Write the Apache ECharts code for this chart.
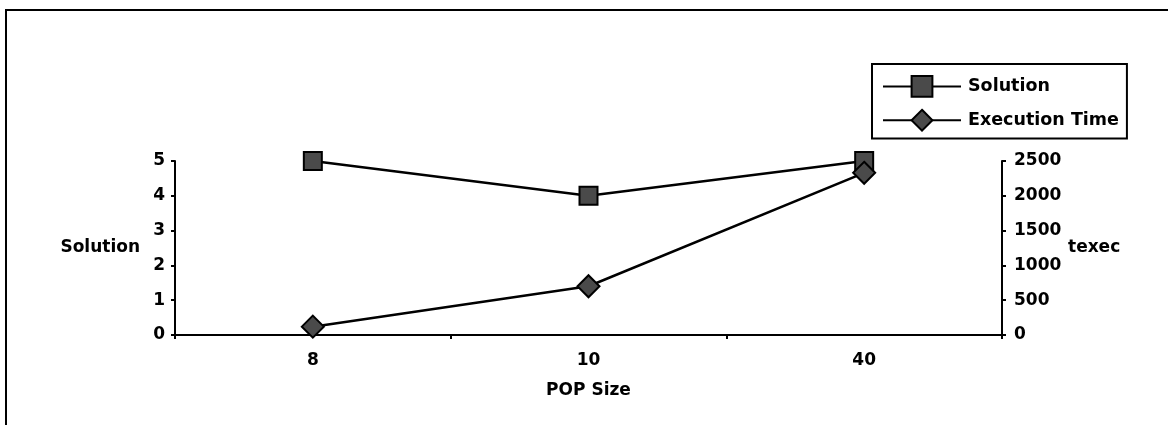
<!DOCTYPE html>
<html>
<head>
<meta charset="utf-8">
<script src="https://cdn.jsdelivr.net/npm/echarts@6/dist/echarts.min.js"></script>
<style>
  html, body { margin: 0; padding: 0; background: #fff; }
  #chart { width: 1168px; height: 425px; }
</style>
</head>
<body>
<div id="chart"></div>
<script>
// POP size categories and measured results
const popSizes = ['8', '10', '40'];
const solution = [5, 4, 5];
const executionTime = [120, 700, 2330];

const font = 'DejaVu Sans';
const txt = { fontFamily: font, fontWeight: 'bold', fontSize: 17, color: '#000' };
const axisLine = { show: true, lineStyle: { color: '#000', width: 2 } };
const axisTick = { show: true, length: 4, lineStyle: { color: '#000', width: 2 } };
const markerStyle = { color: '#4a4a4a', borderColor: '#000', borderWidth: 2 };

const chart = echarts.init(document.getElementById('chart'), null, { renderer: 'canvas' });
chart.setOption({
  animation: false,
  backgroundColor: '#fff',
  graphic: [{
    type: 'rect',
    shape: { x: 6, y: 10, width: 1300, height: 600 },
    style: { fill: 'none', stroke: '#000', lineWidth: 2 },
    silent: true
  }],
  grid: { left: 175, right: 166, top: 161, bottom: 90 },
  legend: {
    left: 872, top: 64,
    orient: 'vertical',
    itemWidth: 78, itemHeight: 26, itemGap: 11,
    padding: [11, 8, 7, 10],
    borderColor: '#000', borderWidth: 2,
    textStyle: Object.assign({}, txt, { fontSize: 17.5, padding: [0, 0, 0, 2] }),
    data: ['Solution', 'Execution Time']
  },
  xAxis: {
    type: 'category',
    data: popSizes,
    boundaryGap: true,
    name: 'POP Size',
    nameLocation: 'middle',
    nameGap: 47,
    nameTextStyle: txt,
    axisLine, axisTick,
    axisLabel: Object.assign({}, txt, { margin: 17 }),
    splitLine: { show: false }
  },
  yAxis: [{
    type: 'value',
    min: 0, max: 5, interval: 1,
    name: 'Solution',
    nameLocation: 'middle',
    nameRotate: 0,
    nameGap: 35,
    nameTextStyle: txt,
    axisLine, axisTick,
    axisLabel: Object.assign({}, txt, { margin: 10 }),
    splitLine: { show: false }
  }, {
    type: 'value',
    min: 0, max: 2500, interval: 500,
    name: 'texec',
    nameLocation: 'middle',
    nameRotate: 0,
    nameGap: 66,
    nameTextStyle: txt,
    position: 'right',
    axisLine, axisTick,
    axisLabel: Object.assign({}, txt, { margin: 12, formatter: v => String(v) }),
    splitLine: { show: false }
  }],
  series: [{
    name: 'Solution',
    type: 'line',
    yAxisIndex: 0,
    data: solution,
    symbol: 'rect',
    symbolSize: 18,
    lineStyle: { color: '#000', width: 2.5 },
    itemStyle: markerStyle
  }, {
    name: 'Execution Time',
    type: 'line',
    yAxisIndex: 1,
    data: executionTime,
    symbol: 'diamond',
    symbolSize: 22,
    lineStyle: { color: '#000', width: 2.5 },
    itemStyle: markerStyle
  }]
});
</script>
</body>
</html>
